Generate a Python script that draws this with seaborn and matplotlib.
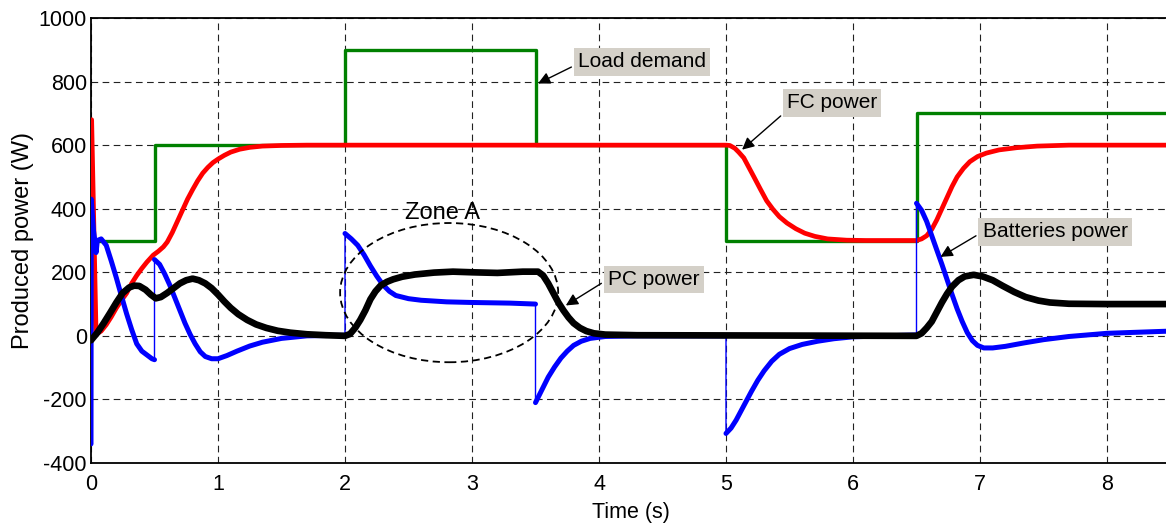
import matplotlib
matplotlib.use("Agg")
import matplotlib.pyplot as plt
from matplotlib.patches import Ellipse
import seaborn as sns
import pandas as pd

# Load demand (W): level held from each switching instant
load_t = [0.0, 0.5, 2.0, 3.5, 5.0, 6.5, 8.5]
load_p = [300, 600, 900, 600, 300, 700, 700]

# Fuel cell power (W)
fc_t = [0.0, 0.005, 0.04, 0.08, 0.12, 0.16, 0.20, 0.24, 0.28, 0.32, 0.36, 0.40,
        0.44, 0.49, 0.53, 0.57, 0.60, 0.64, 0.68, 0.72, 0.76, 0.80, 0.84, 0.88,
        0.92, 0.96, 1.00, 1.05, 1.10, 1.17, 1.25, 1.35, 1.50, 1.70,
        5.00, 5.03, 5.07, 5.10, 5.14, 5.18, 5.22, 5.27, 5.32, 5.37, 5.42, 5.48,
        5.55, 5.62, 5.70, 5.80, 5.95, 6.10, 6.50,
        6.54, 6.58, 6.62, 6.66, 6.70, 6.74, 6.78, 6.82, 6.87, 6.92, 6.98, 7.05,
        7.15, 7.29, 7.45, 7.70, 8.50]
fc_p = [0, 680, 5, 15, 35, 60, 88, 112, 134, 165, 190, 212,
        232, 254, 266, 280, 295, 325, 360, 395, 430, 460, 488, 512,
        530, 545, 556, 568, 578, 587, 593, 597, 599, 600,
        600, 599, 590, 578, 560, 530, 500, 462, 425, 398, 375, 355,
        337, 323, 313, 305, 301, 300, 300,
        305, 315, 335, 365, 400, 435, 470, 500, 527, 548, 564, 575,
        585, 592, 597, 600, 600]

# Battery power (W); repeated instants are the switching jumps
bat_t = [0.0, 0.0, 0.002, 0.02, 0.03, 0.04, 0.05, 0.08, 0.12, 0.16, 0.20, 0.24,
         0.28, 0.32, 0.36, 0.40, 0.44, 0.48, 0.50,
         0.50, 0.54, 0.58, 0.62, 0.66, 0.70, 0.74, 0.78, 0.82, 0.86, 0.90, 0.95,
         1.00, 1.07, 1.15, 1.25, 1.35, 1.50, 1.70, 2.00,
         2.00, 2.05, 2.10, 2.15, 2.20, 2.25, 2.30, 2.35, 2.40, 2.50, 2.60, 2.80,
         3.00, 3.30, 3.50,
         3.50, 3.55, 3.60, 3.65, 3.70, 3.75, 3.80, 3.86, 3.93, 4.05, 4.30, 5.00,
         5.00, 5.04, 5.08, 5.12, 5.16, 5.20, 5.25, 5.30, 5.36, 5.42, 5.50, 5.60,
         5.72, 5.85, 6.00, 6.50,
         6.50, 6.54, 6.58, 6.62, 6.66, 6.70, 6.74, 6.78, 6.82, 6.86, 6.90, 6.94,
         6.98, 7.03, 7.10, 7.20, 7.35, 7.50, 7.70, 8.00, 8.50]
bat_p = [0, -340, 430, 330, 300, 262, 300, 305, 285, 235, 182, 125,
         70, 20, -25, -48, -60, -72, -75,
         240, 225, 195, 160, 120, 80, 40, 5, -25, -50, -65, -72,
         -72, -62, -48, -32, -20, -8, 0, 2,
         322, 305, 285, 255, 220, 188, 160, 140, 127, 117, 112, 107,
         105, 103, 100,
         -210, -170, -130, -98, -70, -48, -30, -17, -8, -2, 0, 0,
         -307, -290, -265, -235, -205, -175, -140, -110, -80, -58, -40, -27,
         -17, -9, -3, 3,
         417, 395, 360, 315, 270, 225, 178, 130, 85, 45, 10, -15,
         -30, -38, -38, -33, -22, -12, -2, 8, 15]

# Photovoltaic (PC) power (W)
pc_t = [0.0, 0.05, 0.10, 0.15, 0.20, 0.25, 0.30, 0.34, 0.38, 0.43, 0.47, 0.51,
        0.55, 0.60, 0.65, 0.70, 0.75, 0.80, 0.85, 0.90, 0.95, 1.00, 1.05, 1.10,
        1.16, 1.23, 1.30, 1.38, 1.47, 1.57, 1.70, 1.85, 2.00,
        2.04, 2.08, 2.12, 2.16, 2.20, 2.24, 2.28, 2.33, 2.38, 2.45, 2.55, 2.70,
        2.85, 3.00, 3.20, 3.40, 3.52, 3.56, 3.60, 3.64, 3.68, 3.72, 3.76, 3.80,
        3.85, 3.90, 3.96, 4.05, 4.30, 6.50,
        6.54, 6.58, 6.62, 6.66, 6.70, 6.74, 6.78, 6.83, 6.88, 6.95, 7.02, 7.10,
        7.18, 7.27, 7.36, 7.46, 7.55, 7.70, 8.00, 8.50]
pc_p = [-14, 10, 40, 72, 105, 135, 152, 158, 157, 145, 130, 118,
        122, 135, 150, 165, 175, 180, 175, 165, 150, 130, 108, 88,
        68, 50, 36, 25, 16, 10, 5, 2, 0,
        6, 25, 50, 80, 115, 140, 158, 170, 178, 186, 193, 199,
        202, 200, 198, 202, 202, 190, 165, 135, 105, 80, 58, 40,
        25, 15, 8, 4, 2, 0,
        8, 25, 45, 75, 105, 132, 155, 175, 187, 192, 187, 175,
        157, 138, 122, 111, 105, 101, 100, 100]

sns.set_style("white")
plt.rcParams["font.family"] = ["Liberation Sans", "DejaVu Sans"]
plt.rcParams["axes.unicode_minus"] = False
plt.rcParams["text.color"] = "black"
plt.rcParams["axes.labelcolor"] = "black"
plt.rcParams["xtick.color"] = "black"
plt.rcParams["ytick.color"] = "black"

fig = plt.figure(figsize=(11.66, 5.25), dpi=100)
ax = fig.add_axes([91 / 1166, 1 - 463 / 525, (1170.5 - 91) / 1166, (463 - 18) / 525])

load_df = pd.DataFrame({"t": load_t, "p": load_p})
fc_df = pd.DataFrame({"t": fc_t, "p": fc_p})
bat_df = pd.DataFrame({"t": bat_t, "p": bat_p})
pc_df = pd.DataFrame({"t": pc_t, "p": pc_p})
# split the battery trace at each jump so the ripple band is drawn per segment
bat_df["seg"] = bat_df["t"].duplicated().cumsum()

sns.lineplot(data=load_df, x="t", y="p", ax=ax, color="#008000", lw=2.4,
             drawstyle="steps-post", estimator=None, sort=False, zorder=3)
sns.lineplot(data=fc_df, x="t", y="p", ax=ax, color="#ff0000", lw=3.4,
             estimator=None, sort=False, zorder=4)
sns.lineplot(data=bat_df, x="t", y="p", ax=ax, color="#0000ff", lw=1.0,
             estimator=None, sort=False, zorder=5)
sns.lineplot(data=bat_df, x="t", y="p", units="seg", ax=ax, color="#0000ff",
             lw=3.6, estimator=None, sort=False, zorder=5)
sns.lineplot(data=pc_df, x="t", y="p", ax=ax, color="#000000", lw=4.8,
             estimator=None, sort=False, zorder=6)

ax.set_xlim(0, 8.5)
ax.set_ylim(-400, 1000)
ax.set_xticks(range(0, 9))
ax.set_yticks(range(-400, 1001, 200))
ax.grid(True, color="#222222", linestyle=(0, (6, 4)), linewidth=0.8)
ax.set_axisbelow(True)
for side in ["left", "bottom", "top"]:
    ax.spines[side].set_color("black")
    ax.spines[side].set_linewidth(1.3)
ax.spines["right"].set_visible(False)
ax.tick_params(axis="both", labelsize=15.5, direction="in", length=4,
               color="black")
ax.tick_params(axis="x", pad=8)
ax.tick_params(axis="y", pad=3)
ax.set_xlabel("Time (s)", fontsize=15.5, labelpad=5)
ax.set_ylabel("Produced power (W)", fontsize=17, labelpad=3)

# Zone A outline
ax.add_patch(Ellipse((2.82, 136), 1.717, 438, fill=False, edgecolor="black",
                     linestyle=(0, (4, 2.5)), linewidth=1.3, zorder=7))
ax.text(2.77, 386, "Zone A", fontsize=17, ha="center", va="center", zorder=8)

box = dict(boxstyle="square,pad=0.2", facecolor="#d4d0c8", edgecolor="none")
arrow = dict(arrowstyle="-|>", color="black", lw=1.0, mutation_scale=18)

ax.annotate("Load demand", xy=(3.50, 790), xytext=(3.835, 862),
            fontsize=15, ha="left", va="center", bbox=box,
            arrowprops=dict(arrow, relpos=(0, 0.4)), zorder=9)
ax.annotate("FC power", xy=(5.11, 580), xytext=(5.48, 733),
            fontsize=15, ha="left", va="center", bbox=box,
            arrowprops=dict(arrow, relpos=(0, 0.1)), zorder=9)
ax.annotate("Batteries power", xy=(6.67, 244), xytext=(7.02, 327),
            fontsize=15, ha="left", va="center", bbox=box,
            arrowprops=dict(arrow, relpos=(0, 0.5)), zorder=9)
ax.annotate("PC power", xy=(3.72, 91), xytext=(4.07, 178),
            fontsize=15, ha="left", va="center", bbox=box,
            arrowprops=dict(arrow, relpos=(0, 0.5)), zorder=9)

fig.savefig("out.png", dpi=100)
